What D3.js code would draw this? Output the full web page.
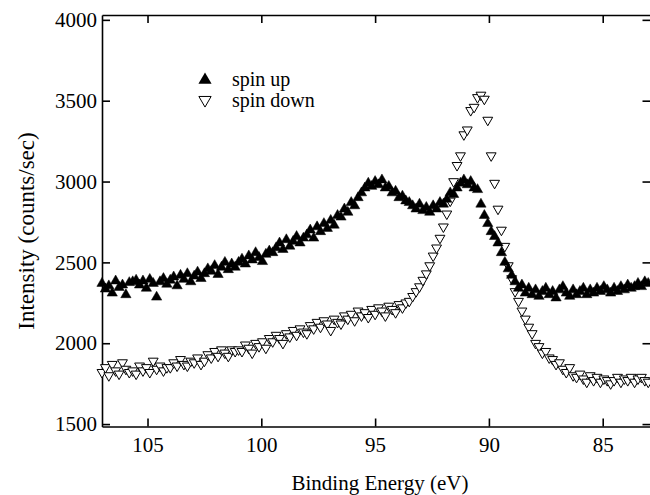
<!DOCTYPE html>
<html>
<head>
<meta charset="utf-8">
<script src="https://cdn.jsdelivr.net/npm/d3@7"></script>
<style>
  html, body { margin: 0; padding: 0; background: #fff; }
  svg { display: block; }
  svg text { font-family: "Liberation Serif", Tinos, "Times New Roman", "DejaVu Serif", serif; fill: #000; }
</style>
</head>
<body>
<svg id="chart" width="650" height="495"></svg>
<script>
// ---- data ----
const energies = [
  107.00,106.85,106.70,106.55,106.40,106.25,106.10,105.95,105.80,105.65,
  105.50,105.35,105.20,105.05,104.90,104.75,104.60,104.45,104.30,104.15,
  104.00,103.85,103.70,103.55,103.40,103.25,103.10,102.95,102.80,102.65,
  102.50,102.35,102.20,102.05,101.90,101.75,101.60,101.45,101.30,101.15,
  101.00,100.85,100.70,100.55,100.40,100.25,100.10,99.95,99.80,99.65,
  99.50,99.35,99.20,99.05,98.90,98.75,98.60,98.45,98.30,98.15,
  98.00,97.85,97.70,97.55,97.40,97.25,97.10,96.95,96.80,96.65,
  96.50,96.35,96.20,96.05,95.90,95.75,95.60,95.45,95.30,95.15,
  95.00,94.85,94.70,94.55,94.40,94.25,94.10,93.95,93.80,93.65,
  93.50,93.35,93.20,93.05,92.90,92.75,92.60,92.45,92.30,92.15,
  92.00,91.85,91.70,91.55,91.40,91.25,91.10,90.95,90.80,90.65,
  90.50,90.35,90.20,90.05,89.90,89.75,89.60,89.45,89.30,89.15,
  89.00,88.85,88.70,88.55,88.40,88.25,88.10,87.95,87.80,87.65,
  87.50,87.35,87.20,87.05,86.90,86.75,86.60,86.45,86.30,86.15,
  86.00,85.85,85.70,85.55,85.40,85.25,85.10,84.95,84.80,84.65,
  84.50,84.35,84.20,84.05,83.90,83.75,83.60,83.45,83.30,83.15,
  83.00
];
const spinUp = [
  2370,2335,2355,2310,2385,2345,2360,2300,2375,2380,
  2390,2360,2385,2340,2395,2370,2285,2380,2400,2365,
  2390,2410,2355,2420,2395,2430,2380,2415,2440,2400,
  2430,2460,2445,2480,2425,2470,2500,2455,2490,2470,
  2500,2520,2490,2540,2515,2560,2530,2505,2550,2570,
  2560,2590,2620,2580,2640,2600,2630,2660,2620,2650,
  2670,2700,2650,2720,2690,2740,2710,2760,2730,2790,
  2780,2830,2810,2870,2850,2900,2930,2960,2990,2970,
  3000,2980,3010,2960,2970,2930,2940,2900,2910,2880,
  2870,2850,2830,2860,2820,2840,2810,2850,2830,2870,
  2860,2890,2930,2920,2960,2990,3010,2980,3000,2960,
  2950,2860,2790,2740,2690,2660,2620,2560,2500,2460,
  2420,2380,2340,2360,2310,2340,2300,2330,2290,2320,
  2340,2300,2320,2280,2330,2350,2310,2290,2330,2300,
  2320,2340,2300,2330,2310,2340,2320,2350,2330,2310,
  2340,2320,2350,2330,2360,2340,2350,2370,2350,2380,
  2370
];
const spinDown = [
  1820,1850,1800,1870,1830,1810,1880,1840,1820,1830,
  1810,1860,1830,1850,1820,1890,1840,1860,1830,1850,
  1850,1880,1860,1900,1870,1860,1890,1880,1910,1870,
  1890,1930,1910,1950,1920,1960,1940,1920,1960,1950,
  1960,1950,1990,1970,1940,2000,1980,2010,1970,2030,
  2010,2050,2030,2000,2060,2040,2080,2050,2090,2070,
  2060,2110,2090,2130,2100,2140,2120,2080,2150,2130,
  2120,2170,2150,2180,2140,2200,2170,2190,2160,2210,
  2180,2220,2200,2170,2230,2210,2190,2240,2220,2250,
  2260,2290,2320,2350,2390,2430,2480,2540,2590,2650,
  2720,2800,2880,3000,3100,3160,3290,3320,3440,3460,
  3520,3535,3510,3380,3160,2990,2830,2700,2600,2480,
  2400,2320,2260,2200,2150,2100,2060,2000,1980,1940,
  1950,1910,1900,1870,1880,1840,1820,1850,1800,1790,
  1810,1780,1760,1800,1770,1790,1760,1780,1770,1750,
  1770,1790,1760,1780,1770,1790,1760,1780,1790,1770,
  1760
];
const xTicks = [105, 100, 95, 90, 85];
const yTicks = [1500, 2000, 2500, 3000, 3500, 4000];
const legendLabels = ["spin up", "spin down"];
const xTitle = "Binding Energy (eV)";
const yTitle = "Intensity (counts/sec)";

// ---- layout ----
const svg = d3.select("#chart");
const mLeft = 102, mRight = 650.5, mTop = 15, mBottom = 426.5;
const FS = 21;
const SERIF = "'Liberation Serif', Tinos, 'Times New Roman', 'DejaVu Serif', serif";

const x = d3.scaleLinear().domain([107, 82.9]).range([mLeft, mRight]);
const y = d3.scaleLinear().domain([1485, 4030]).range([mBottom, mTop]);

function styleAxis(g) {
  g.attr("font-family", SERIF);
  g.selectAll("path.domain").attr("stroke", "#000").attr("stroke-width", 1.6);
  g.selectAll(".tick line").attr("stroke", "#000").attr("stroke-width", 1.6);
  g.selectAll(".tick text").attr("font-size", FS).attr("font-family", SERIF).attr("fill", "#000");
}

svg.append("g").attr("transform", `translate(0,${mBottom})`)
  .call(d3.axisBottom(x).tickValues(xTicks).tickSizeInner(-8).tickSizeOuter(0).tickPadding(11).tickFormat(d3.format("d")))
  .call(styleAxis);
svg.append("g").attr("transform", `translate(0,${mTop})`)
  .call(d3.axisTop(x).tickValues(xTicks).tickSizeInner(-8).tickSizeOuter(0).tickFormat(""))
  .call(styleAxis);
svg.append("g").attr("transform", `translate(${mLeft},0)`)
  .call(d3.axisLeft(y).tickValues(yTicks).tickSizeInner(-8).tickSizeOuter(0).tickPadding(5).tickFormat(d3.format("d")))
  .call(styleAxis);
svg.append("g").attr("transform", `translate(${mRight},0)`)
  .call(d3.axisRight(y).tickValues(yTicks).tickSizeInner(-8).tickSizeOuter(0).tickFormat(""))
  .call(styleAxis);

// ---- data marks ----
const upSym = d3.symbol().type(d3.symbolTriangle).size(46);
const downSym = d3.symbol().type(d3.symbolTriangle).size(42);

const upData = energies.map((e, i) => [e, spinUp[i]]);
const downData = energies.map((e, i) => [e, spinDown[i]]);

svg.append("g").selectAll("path").data(downData).join("path")
  .attr("d", downSym)
  .attr("transform", d => `translate(${x(d[0])},${y(d[1])}) rotate(180)`)
  .attr("fill", "#fff").attr("stroke", "#000").attr("stroke-width", 1);

svg.append("g").selectAll("path").data(upData).join("path")
  .attr("d", upSym)
  .attr("transform", d => `translate(${x(d[0])},${y(d[1])})`)
  .attr("fill", "#000").attr("stroke", "#000").attr("stroke-width", 0.5);

// ---- legend ----
const lg = svg.append("g").attr("font-family", SERIF);
lg.append("path").attr("d", d3.symbol().type(d3.symbolTriangle).size(75))
  .attr("transform", "translate(205,80)").attr("fill", "#000");
lg.append("path").attr("d", d3.symbol().type(d3.symbolTriangle).size(65))
  .attr("transform", "translate(205,100) rotate(180)").attr("fill", "#fff")
  .attr("stroke", "#000").attr("stroke-width", 1);
lg.append("text").attr("x", 232).attr("y", 86).attr("font-size", FS - 1).text(legendLabels[0]);
lg.append("text").attr("x", 232).attr("y", 107).attr("font-size", FS - 1).text(legendLabels[1]);

// ---- titles ----
svg.append("text").attr("x", 380).attr("y", 490).attr("text-anchor", "middle")
  .attr("font-family", SERIF).attr("font-size", FS).text(xTitle);
svg.append("text").attr("transform", "translate(34,231) rotate(-90)").attr("text-anchor", "middle")
  .attr("font-family", SERIF).attr("font-size", 23).text(yTitle);
</script>
</body>
</html>
